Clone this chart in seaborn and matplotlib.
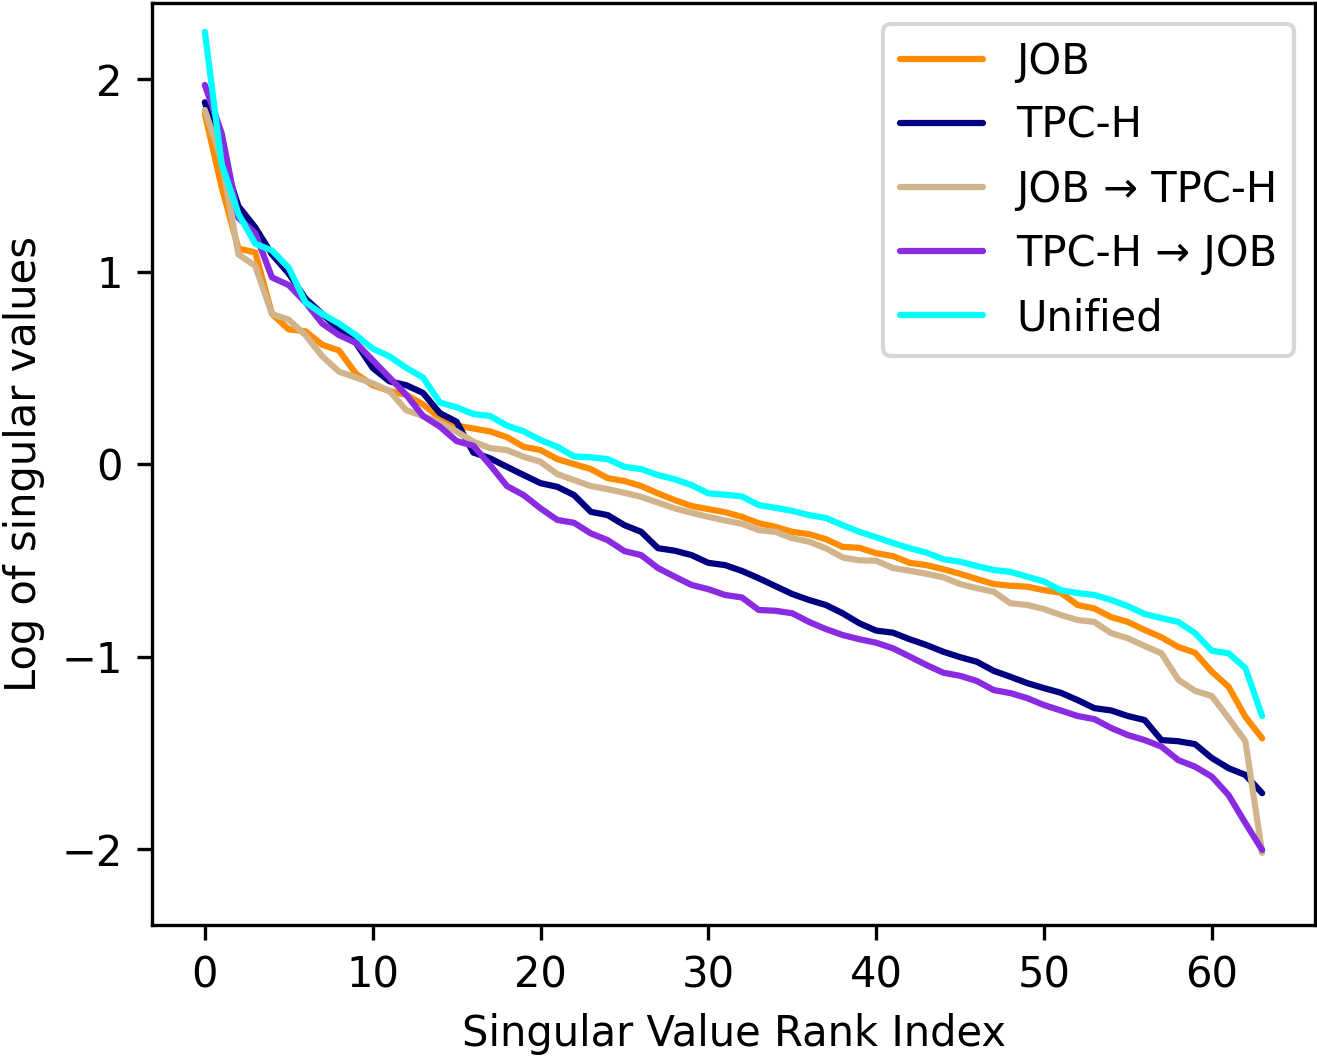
import numpy as np
import pandas as pd
import matplotlib
matplotlib.use("Agg")
import matplotlib.pyplot as plt
import seaborn as sns

# valores (log de valores singulares, 64 rangos)
rank = list(range(64))

job = [1.82, 1.44, 1.12, 1.10, 0.78, 0.70, 0.69, 0.62, 0.59, 0.47,
       0.41, 0.38, 0.36, 0.31, 0.24, 0.20, 0.185, 0.17, 0.14, 0.09,
       0.073, 0.026, 0.0, -0.026, -0.073, -0.088, -0.114, -0.152, -0.187, -0.218,
       -0.234, -0.25, -0.274, -0.307, -0.326, -0.352, -0.364, -0.39, -0.43, -0.435,
       -0.463, -0.478, -0.513, -0.525, -0.546, -0.57, -0.597, -0.623, -0.632, -0.637,
       -0.655, -0.668, -0.732, -0.75, -0.795, -0.82, -0.862, -0.90, -0.95, -0.98,
       -1.079, -1.157, -1.313, -1.425]

tpch = [1.88, 1.61, 1.34, 1.23, 1.09, 0.99, 0.86, 0.78, 0.70, 0.63,
        0.50, 0.43, 0.41, 0.37, 0.265, 0.22, 0.06, 0.03, -0.014, -0.057,
        -0.099, -0.118, -0.161, -0.248, -0.265, -0.317, -0.352, -0.437, -0.45, -0.473,
        -0.513, -0.525, -0.555, -0.593, -0.634, -0.675, -0.706, -0.732, -0.775, -0.827,
        -0.865, -0.876, -0.91, -0.94, -0.975, -1.003, -1.027, -1.074, -1.105, -1.138,
        -1.164, -1.188, -1.226, -1.268, -1.28, -1.309, -1.33, -1.434, -1.44, -1.455,
        -1.527, -1.58, -1.615, -1.71]

job_to_tpch = [1.84, 1.58, 1.09, 1.03, 0.78, 0.75, 0.67, 0.56, 0.48, 0.45,
               0.42, 0.38, 0.28, 0.25, 0.215, 0.17, 0.116, 0.083, 0.073, 0.038,
               0.012, -0.052, -0.083, -0.114, -0.13, -0.149, -0.17, -0.20, -0.23, -0.253,
               -0.274, -0.293, -0.31, -0.343, -0.352, -0.385, -0.403, -0.437, -0.485, -0.50,
               -0.502, -0.54, -0.554, -0.57, -0.588, -0.623, -0.645, -0.663, -0.723, -0.732,
               -0.753, -0.784, -0.81, -0.82, -0.878, -0.905, -0.945, -0.983, -1.12, -1.178,
               -1.205, -1.32, -1.44, -2.02]

tpch_to_job = [1.97, 1.72, 1.28, 1.20, 0.97, 0.93, 0.84, 0.73, 0.67, 0.63,
               0.54, 0.45, 0.36, 0.25, 0.195, 0.12, 0.095, -0.005, -0.114, -0.161,
               -0.23, -0.29, -0.305, -0.36, -0.395, -0.452, -0.473, -0.54, -0.585, -0.628,
               -0.65, -0.68, -0.693, -0.758, -0.762, -0.775, -0.82, -0.857, -0.888, -0.91,
               -0.928, -0.957, -1.0, -1.044, -1.084, -1.10, -1.127, -1.174, -1.19, -1.216,
               -1.252, -1.28, -1.309, -1.325, -1.371, -1.408, -1.434, -1.468, -1.538, -1.572,
               -1.624, -1.72, -1.865, -2.005]

unified = [2.246, 1.56, 1.30, 1.145, 1.11, 1.02, 0.84, 0.78, 0.73, 0.67,
           0.60, 0.56, 0.50, 0.45, 0.32, 0.295, 0.26, 0.25, 0.20, 0.17,
           0.125, 0.09, 0.04, 0.035, 0.026, -0.014, -0.026, -0.057, -0.079, -0.109,
           -0.152, -0.159, -0.168, -0.213, -0.227, -0.243, -0.265, -0.28, -0.317, -0.352,
           -0.38, -0.41, -0.437, -0.46, -0.494, -0.507, -0.53, -0.55, -0.56, -0.585,
           -0.61, -0.655, -0.67, -0.68, -0.706, -0.738, -0.779, -0.80, -0.82, -0.878,
           -0.97, -0.983, -1.06, -1.309]

nombres = ["JOB", "TPC-H", "JOB \u2192 TPC-H", "TPC-H \u2192 JOB", "Unified"]
colores = ["darkorange", "navy", "tan", "blueviolet", "cyan"]
series = [job, tpch, job_to_tpch, tpch_to_job, unified]

# estilo simple con texto y bordes negros, como matplotlib por defecto
sns.set_style("ticks", {"axes.edgecolor": "black", "text.color": "black",
                        "axes.labelcolor": "black", "xtick.color": "black",
                        "ytick.color": "black"})
plt.rcParams['font.family'] = ['DejaVu Sans']
plt.rcParams['font.size'] = 10

fig, ax = plt.subplots(figsize=(1317 / 300, 1059 / 300), dpi=300)
fig.subplots_adjust(left=0.1154, right=0.9985, top=0.997, bottom=0.1265)

for nombre, color, valores in zip(nombres, colores, series):
    df = pd.DataFrame({"rank": rank, "val": valores})
    sns.lineplot(data=df, x="rank", y="val", color=color, label=nombre,
                 linewidth=1.5, ax=ax)

ax.set_ylim(-2.395, 2.395)
ax.set_xticks([0, 10, 20, 30, 40, 50, 60])
ax.set_yticks([-2, -1, 0, 1, 2])
ax.set_xlabel("Singular Value Rank Index")
ax.set_ylabel("Log of singular values")
ax.legend(loc="upper right", labelspacing=0.53)

plt.savefig("out.png", dpi=300)
